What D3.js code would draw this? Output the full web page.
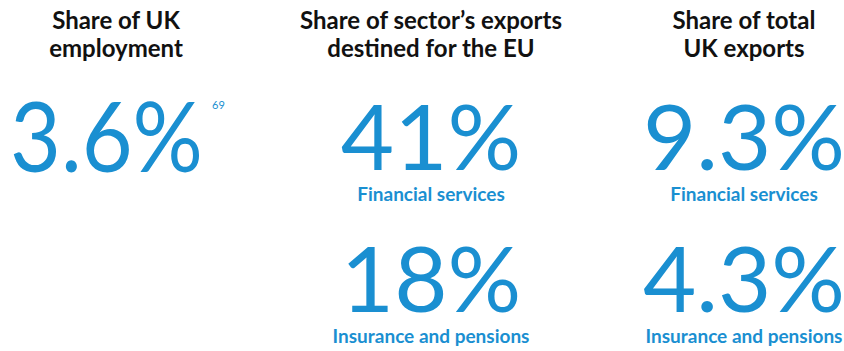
<!DOCTYPE html>
<html>
<head>
<meta charset="utf-8">
<script src="https://cdn.jsdelivr.net/npm/d3@7"></script>
<style>
  html, body { margin: 0; padding: 0; background: #fff; }
  svg { display: block; }
</style>
</head>
<body>
<svg id="chart" width="844" height="351"></svg>
<script>
// Column headings (two lines each)
const headings = [
  ["Share of UK", "employment"],
  ["Share of sector\u2019s exports", "destined for the EU"],
  ["Share of total", "UK exports"]
];
// Headline figures, per column and row
const columns = ["employment", "euShare", "ukShare"];
const rows = ["financial", "insurance"];
const employmentValues = [3.6];
const euShareValues = [41, 18];
const ukShareValues = [9.3, 4.3];
const sectorLabels = ["Financial services", "Insurance and pensions"];
const footnote = "69";

const blue = "#1a8fd1";
const svg = d3.select("#chart");

const x = d3.scaleOrdinal().domain(columns).range([116, 431, 744]);
const yRow = d3.scaleOrdinal().domain(rows).range([170, 312]);

// Headings
const head = svg.append("g").attr("font-family", "Lato").attr("font-weight", 700)
  .attr("font-size", 24).attr("fill", "#111").attr("text-anchor", "middle");
headings.forEach((lines, i) => {
  const t = head.append("text").attr("x", x(columns[i])).attr("y", 29);
  lines.forEach((l, j) => t.append("tspan").attr("x", x(columns[i])).attr("dy", j ? 28 : 0).text(l));
});

const fmt = (v) => (Number.isInteger(v) ? d3.format("d")(v) : d3.format(".1f")(v)) + "%";

// Employment share (single large figure with footnote marker)
const emp = svg.append("g");
emp.selectAll("text.big").data(employmentValues).join("text")
  .attr("class", "big")
  .attr("x", 10).attr("y", yRow("financial") + 2)
  .attr("font-family", "Lato").attr("font-weight", 400).attr("font-size", 96)
  .attr("fill", blue).attr("textLength", 193).attr("lengthAdjust", "spacingAndGlyphs")
  .text(fmt);
emp.append("text").attr("x", 212).attr("y", 109)
  .attr("font-family", "Lato").attr("font-size", 11).attr("fill", blue).text(footnote);

// Sector figures
[["euShare", euShareValues], ["ukShare", ukShareValues]].forEach(([col, vals]) => {
  const g = svg.append("g").attr("text-anchor", "middle").attr("fill", blue).attr("font-family", "Lato");
  const cells = g.selectAll("g").data(vals.map((v, i) => ({ v, row: rows[i], label: sectorLabels[i] })))
    .join("g");
  cells.append("text")
    .attr("x", x(col)).attr("y", d => yRow(d.row))
    .attr("font-weight", 400).attr("font-size", 92)
    .text(d => fmt(d.v));
  cells.append("text")
    .attr("x", x(col)).attr("y", d => yRow(d.row) + 31)
    .attr("font-weight", 700).attr("font-size", 19)
    .text(d => d.label);
});
</script>
</body>
</html>
